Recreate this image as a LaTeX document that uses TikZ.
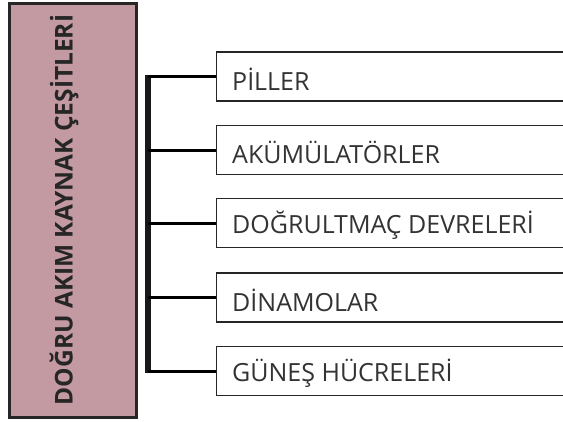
\documentclass[tikz,border=0pt]{standalone}
\usepackage{fontspec}
\setmainfont{Open Sans}
\definecolor{rose}{HTML}{C49AA2}
\definecolor{edge}{HTML}{262626}
\definecolor{txt}{HTML}{333333}
\begin{document}
\begin{tikzpicture}[x=1pt,y=-1pt,
  item/.style={draw=edge,line width=1.3pt,fill=white,minimum width=360pt,minimum height=49pt,
    anchor=west,inner sep=0pt},
  itemtext/.style={anchor=west,text=txt,font=\fontsize{25}{28}\selectfont,inner sep=0pt},
  branch/.style={line width=3pt,black}]
\clip (0,0) rectangle (563,421);
\fill[white] (0,0) rectangle (563,421);
\node[draw=edge,line width=2.2pt,fill=rose,minimum width=127pt,minimum height=414pt,inner sep=0pt] (title) at (73,210.5) {};
\node[rotate=90,font=\bfseries\fontsize{24.5}{28}\selectfont,text=edge] (tlabel) at (64,210) {DOĞRU AKIM KAYNAK ÇEŞİTLERİ};
\foreach \i/\y/\t in {1/76.5/PİLLER,2/150/AKÜMÜLATÖRLER,3/223/DOĞRULTMAÇ DEVRELERİ,4/297.5/DİNAMOLAR,5/371/GÜNEŞ HÜCRELERİ}{
  \node[item] (b\i) at (216,\y) {};
  \node[itemtext] (t\i) at (232,\y+2.5) {\t};
}
\coordinate (top) at (148,76.5);
\draw[line width=5.5pt,black!90] (148,74.5) -- (148,373);
\foreach \i in {1,...,5}{
  \draw[branch] (b\i.west) -- (b\i.west -| top);
}
\end{tikzpicture}
\end{document}
